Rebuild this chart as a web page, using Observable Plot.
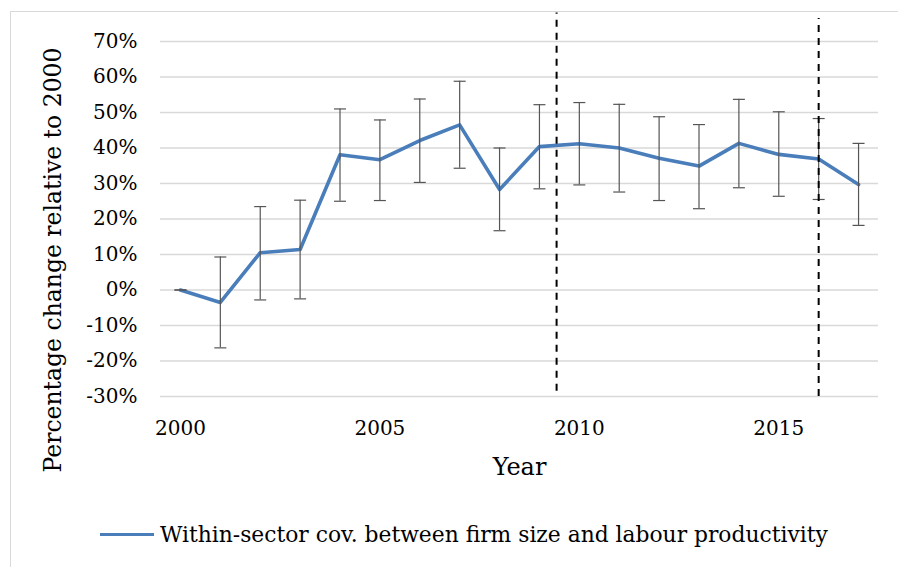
<!DOCTYPE html>
<html>
<head>
<meta charset="utf-8">
<script src="https://cdn.jsdelivr.net/npm/d3@7"></script>
<script src="https://cdn.jsdelivr.net/npm/@observablehq/plot@0.6"></script>
<style>
  body { margin: 0; background: #fff; }
  #wrap { position: relative; width: 898px; height: 567px; overflow: hidden; font-family: "DejaVu Serif", serif; }
  #frame { position: absolute; left: 10px; top: 11px; width: 1000px; height: 1000px; border: 1.5px solid #d9d9d9; }
  #chart { position: absolute; left: 0; top: 0; }
  #legend { position: absolute; left: 100px; top: 522px; display: flex; align-items: center; font-size: 21.8px; color: #000; }
  #legend .swatch { width: 54px; height: 3.5px; background: #4a7ebb; margin-right: 6px; }
</style>
</head>
<body>
<div id="wrap">
  <div id="frame"></div>
  <div id="chart"></div>
  <div id="legend"><span class="swatch"></span><span>Within-sector cov. between firm size and labour productivity</span></div>
</div>
<script>
// values (share, 0.1 = 10%)
const years = [2000, 2001, 2002, 2003, 2004, 2005, 2006, 2007, 2008, 2009, 2010, 2011, 2012, 2013, 2014, 2015, 2016, 2017];
const change = [0, -0.035, 0.105, 0.114, 0.381, 0.367, 0.421, 0.465, 0.283, 0.404, 0.412, 0.400, 0.371, 0.349, 0.413, 0.382, 0.369, 0.297];
const upper = [0, 0.093, 0.235, 0.253, 0.510, 0.479, 0.538, 0.588, 0.400, 0.522, 0.528, 0.523, 0.488, 0.466, 0.537, 0.502, 0.483, 0.413];
const lower = [0, -0.163, -0.028, -0.025, 0.250, 0.252, 0.303, 0.343, 0.167, 0.285, 0.296, 0.276, 0.252, 0.229, 0.288, 0.264, 0.255, 0.182];

const yTicks = [-0.3, -0.2, -0.1, 0, 0.1, 0.2, 0.3, 0.4, 0.5, 0.6, 0.7];
const xTicks = [2000, 2005, 2010, 2015];

// dashed break lines
const breakX = [2009.43, 2016];
const breakTop = [0.78, 0.765];
const breakBottom = [-0.285, -0.3];

const data = years.map((y, i) => ({year: y, value: change[i], hi: upper[i], lo: lower[i]}));
const breaks = breakX.map((x, i) => ({x, top: breakTop[i], bottom: breakBottom[i]}));

const capSymbol = {
  draw(context) {
    context.moveTo(-6, 0);
    context.lineTo(6, 0);
  }
};

const chart = Plot.plot({
  width: 898,
  height: 500,
  marginLeft: 160,
  marginRight: 20,
  marginTop: 41,
  marginBottom: 104,
  style: {fontFamily: "DejaVu Serif", fontSize: "20px", color: "#000", background: "transparent", overflow: "visible"},
  x: {domain: [1999.5, 2017.5], ticks: xTicks, tickFormat: "d", tickSize: 0, tickPadding: 24, label: null},
  y: {domain: [-0.3, 0.7], ticks: yTicks, tickFormat: d => Math.round(d * 100) + "%", tickSize: 0, tickPadding: 23, label: null},
  marks: [
    Plot.gridY(yTicks, {stroke: "#d9d9d9", strokeOpacity: 1, strokeWidth: 1.4}),
    Plot.line(data, {x: "year", y: "value", stroke: "#4a7ebb", strokeWidth: 3.6}),
    Plot.ruleX(data, {x: "year", y1: "lo", y2: "hi", stroke: "#555", strokeWidth: 1.2}),
    Plot.dot(data, {x: "year", y: "hi", symbol: capSymbol, fill: "none", stroke: "#555", strokeWidth: 1.2}),
    Plot.dot(data, {x: "year", y: "lo", symbol: capSymbol, fill: "none", stroke: "#555", strokeWidth: 1.2}),
    Plot.ruleX(breaks, {x: "x", y1: "bottom", y2: "top", stroke: "#000", strokeWidth: 2, strokeDasharray: "7,6"}),
    Plot.text(["Year"], {frameAnchor: "bottom", dy: 78, fontSize: 24, fill: "#000"}),
    Plot.text(["Percentage change relative to 2000"], {frameAnchor: "left", textAnchor: "middle", rotate: -90, dx: -107, dy: 41, fontSize: 23.5, fill: "#000"})
  ]
});

d3.select("#chart").append(() => chart);
</script>
</body>
</html>
